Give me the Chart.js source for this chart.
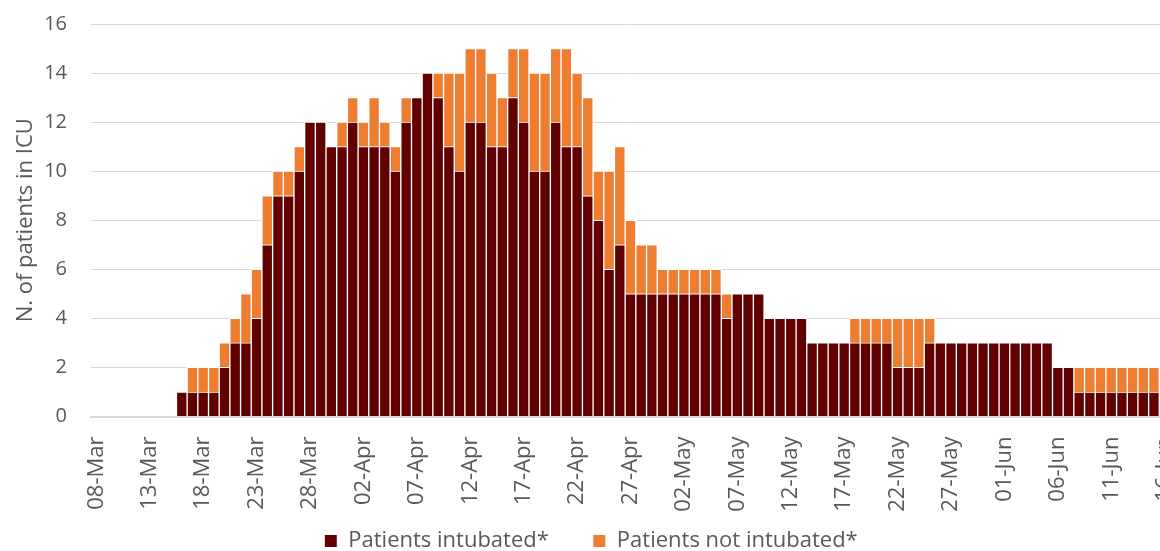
<!DOCTYPE html>
<html>
<head>
<meta charset="utf-8">
<title>Patients in ICU</title>
<script src="https://cdn.jsdelivr.net/npm/chart.js@4.4.1/dist/chart.umd.min.js"></script>
<style>
    html, body { margin: 0; padding: 0; background: #fff; overflow: hidden; }
    #wrap { position: relative; width: 1170px; height: 562px; }
</style>
</head>
<body>
<div id="wrap"><canvas id="icu-chart" width="1170" height="562"></canvas></div>
<script>
// Daily categories, 08-Mar to 16-Jun
const days = [
    '08-Mar','09-Mar','10-Mar','11-Mar','12-Mar','13-Mar','14-Mar','15-Mar','16-Mar','17-Mar',
    '18-Mar','19-Mar','20-Mar','21-Mar','22-Mar','23-Mar','24-Mar','25-Mar','26-Mar','27-Mar',
    '28-Mar','29-Mar','30-Mar','31-Mar',
    '01-Apr','02-Apr','03-Apr','04-Apr','05-Apr','06-Apr','07-Apr','08-Apr','09-Apr','10-Apr',
    '11-Apr','12-Apr','13-Apr','14-Apr','15-Apr','16-Apr','17-Apr','18-Apr','19-Apr','20-Apr',
    '21-Apr','22-Apr','23-Apr','24-Apr','25-Apr','26-Apr','27-Apr','28-Apr','29-Apr','30-Apr',
    '01-May','02-May','03-May','04-May','05-May','06-May','07-May','08-May','09-May','10-May',
    '11-May','12-May','13-May','14-May','15-May','16-May','17-May','18-May','19-May','20-May',
    '21-May','22-May','23-May','24-May','25-May','26-May','27-May','28-May','29-May','30-May',
    '31-May',
    '01-Jun','02-Jun','03-Jun','04-Jun','05-Jun','06-Jun','07-Jun','08-Jun','09-Jun','10-Jun',
    '11-Jun','12-Jun','13-Jun','14-Jun','15-Jun','16-Jun'
];

// Labels shown on the x axis (every 5th day)
const tickLabels = [
    '08-Mar','13-Mar','18-Mar','23-Mar','28-Mar','02-Apr','07-Apr','12-Apr','17-Apr','22-Apr',
    '27-Apr','02-May','07-May','12-May','17-May','22-May','27-May','01-Jun','06-Jun','11-Jun','16-Jun'
];

const intubated = [
    0, 0, 0, 0, 0, 0, 0, 0, 1, 1,
    1, 1, 2, 3, 3, 4, 7, 9, 9, 10,
    12, 12, 11, 11, 12, 11, 11, 11, 10, 12,
    13, 14, 13, 11, 10, 12, 12, 11, 11, 13,
    12, 10, 10, 12, 11, 11, 9, 8, 6, 7,
    5, 5, 5, 5, 5, 5, 5, 5, 5, 4,
    5, 5, 5, 4, 4, 4, 4, 3, 3, 3,
    3, 3, 3, 3, 3, 2, 2, 2, 3, 3,
    3, 3, 3, 3, 3, 3, 3, 3, 3, 3,
    2, 2, 1, 1, 1, 1, 1, 1, 1, 1,
    1
];

const notIntubated = [
    0, 0, 0, 0, 0, 0, 0, 0, 0, 1,
    1, 1, 1, 1, 2, 2, 2, 1, 1, 1,
    0, 0, 0, 1, 1, 1, 2, 1, 1, 1,
    0, 0, 1, 3, 4, 3, 3, 3, 2, 2,
    3, 4, 4, 3, 4, 3, 4, 2, 4, 4,
    3, 2, 2, 1, 1, 1, 1, 1, 1, 1,
    0, 0, 0, 0, 0, 0, 0, 0, 0, 0,
    0, 1, 1, 1, 1, 2, 2, 2, 1, 0,
    0, 0, 0, 0, 0, 0, 0, 0, 0, 0,
    0, 0, 1, 1, 1, 1, 1, 1, 1, 1,
    1
];

const yTicks = [0, 2, 4, 6, 8, 10, 12, 14, 16];

Chart.defaults.font.family = "'Open Sans', sans-serif";
const textColor = '#595959';
const gridColor = '#d9d9d9';

// nudge the legend a little to the right, like the original
const legendShift = {
    id: 'legendShift',
    afterLayout(chart) {
        if (chart.legend) {
            chart.legend.left += 6;
            chart.legend.right += 6;
        }
    }
};

const ctx = document.getElementById('icu-chart').getContext('2d');

new Chart(ctx, {
    type: 'bar',
    data: {
        labels: days,
        datasets: [
            {
                label: 'Patients intubated*',
                data: intubated,
                backgroundColor: '#600000',
                borderColor: '#ffffff',
                borderWidth: 1,
                categoryPercentage: 1,
                barPercentage: 1
            },
            {
                label: 'Patients not intubated*',
                data: notIntubated,
                backgroundColor: '#ed7d31',
                borderColor: '#ffffff',
                borderWidth: 1,
                categoryPercentage: 1,
                barPercentage: 1
            }
        ]
    },
    plugins: [legendShift],
    options: {
        responsive: false,
        animation: false,
        layout: { padding: { top: 24, left: 0, right: 0, bottom: 0 } },
        plugins: {
            tooltip: { enabled: false },
            legend: {
                position: 'bottom',
                labels: {
                    boxWidth: 13,
                    boxHeight: 13,
                    padding: 44,
                    color: textColor,
                    font: { size: 22 }
                }
            }
        },
        scales: {
            x: {
                stacked: true,
                grid: { display: false },
                border: { color: gridColor, width: 2 },
                ticks: {
                    autoSkip: false,
                    maxRotation: 90,
                    minRotation: 90,
                    padding: 12,
                    color: textColor,
                    font: { size: 22 },
                    callback: function(value, index) {
                        return tickLabels.includes(days[index]) ? days[index] : '';
                    }
                },
                afterFit: function(scale) {
                    // legend sits over the lower part of the rotated labels, as in the original
                    scale.height = 69.5;
                    scale.paddingLeft = 0;
                    scale.paddingRight = 0;
                    scale._computeLabelArea = function() { return undefined; };
                }
            },
            y: {
                stacked: true,
                min: yTicks[0],
                max: yTicks[yTicks.length - 1],
                afterBuildTicks: function(scale) {
                    scale.ticks = yTicks.map(v => ({ value: v }));
                },
                grid: { color: gridColor, drawTicks: false },
                border: { display: false },
                ticks: {
                    padding: 24,
                    color: textColor,
                    font: { size: 20 }
                },
                title: {
                    display: true,
                    text: 'N. of patients in ICU',
                    color: textColor,
                    font: { size: 22 },
                    padding: { top: 13, bottom: 0 }
                },
                afterFit: function(scale) {
                    scale.width = 91;
                    scale.paddingTop = 0;
                    scale.paddingBottom = 0;
                }
            }
        }
    }
});
</script>
</body>
</html>
